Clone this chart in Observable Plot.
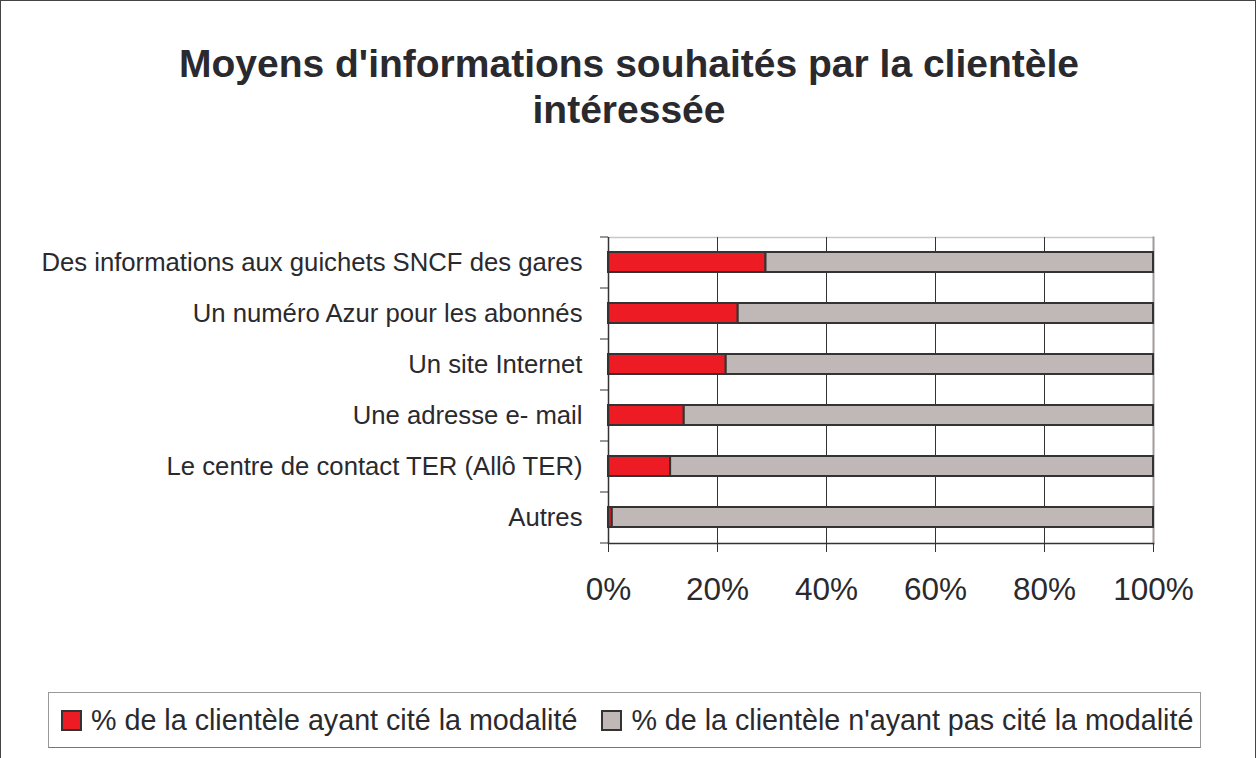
<!DOCTYPE html>
<html>
<head>
<meta charset="utf-8">
<script src="https://cdn.jsdelivr.net/npm/d3@7"></script>
<script src="https://cdn.jsdelivr.net/npm/@observablehq/plot@0.6"></script>
<style>
  html, body { margin: 0; padding: 0; background: #fff; }
  #page { position: relative; width: 1258px; height: 758px; font-family: "Liberation Sans", Arial, sans-serif; color: #222; overflow: hidden; }
  #border { position: absolute; left: 0; top: 0; width: 1256px; height: 780px; box-sizing: border-box; border: 1.5px solid #444; pointer-events: none; }
  #title { height: 190px; box-sizing: border-box; padding-top: 41px; text-align: center; font-weight: bold; font-size: 39px; line-height: 46px; color: #2a2a2e; }
  #chart svg { display: block; }
  #legend { margin-left: 48px; margin-top: 72px; width: 1153px; height: 56px; box-sizing: border-box; border: 1px solid #999; border-bottom-color: #777; display: flex; align-items: center; padding-left: 12px; font-size: 28.7px; color: #2a2a2e; white-space: nowrap; }
  .sw { display: inline-block; width: 17px; height: 17px; border: 2px solid #333; margin-right: 9px; flex: none; }
  .item { display: flex; align-items: center; margin-right: 24px; }
</style>
</head>
<body>
<div id="page">
  <div id="title">Moyens d'informations souhaités par la clientèle<br>intéressée</div>
  <div id="chart"></div>
  <div id="legend"></div>
  <div id="border"></div>
</div>
<script>
const categories = [
  "Des informations aux guichets SNCF des gares",
  "Un numéro Azur pour les abonnés",
  "Un site Internet",
  "Une adresse e- mail",
  "Le centre de contact TER (Allô TER)",
  "Autres"
];
const seriesNames = [
  "% de la clientèle ayant cité la modalité",
  "% de la clientèle n'ayant pas cité la modalité"
];
const cited    = [28.9, 23.8, 21.6, 13.9, 11.4, 0.7];
const notCited = [71.1, 76.2, 78.4, 86.1, 88.6, 99.3];
const xTicks = [0, 20, 40, 60, 80, 100];
const gridTicks = [20, 40, 60, 80];
const colors = ["#ED1C24", "#C0B8B6"];

const rows = [];
categories.forEach((c, i) => {
  rows.push({category: c, series: seriesNames[0], value: cited[i]});
  rows.push({category: c, series: seriesNames[1], value: notCited[i]});
});

const step = 51;
const chart = Plot.plot({
  width: 1258,
  height: 430,
  marginTop: 47,
  marginBottom: 77,
  marginLeft: 608,
  marginRight: 105,
  style: {fontFamily: "'Liberation Sans', Arial, sans-serif", color: "#2a2a2e", background: "white"},
  x: {domain: [0, 100]},
  y: {domain: categories, paddingInner: 0.6, paddingOuter: 0.3},
  color: {domain: seriesNames, range: colors},
  marks: [
    Plot.frame({anchor: "top", stroke: "#c8c8c8", strokeWidth: 1.5}),
    Plot.frame({anchor: "right", stroke: "#a39a9a", strokeWidth: 2}),
    Plot.ruleX(gridTicks, {stroke: "#333", strokeWidth: 1}),
    Plot.barX(rows, Plot.stackX({x: "value", y: "category", fill: "series", stroke: "#333", strokeWidth: 2, order: seriesNames})),
    Plot.ruleX([0], {stroke: "#333", strokeWidth: 1.5}),
    Plot.frame({anchor: "bottom", stroke: "#333", strokeWidth: 1.5}),
    Plot.axisY({tickSize: 0, tickPadding: 26, fontSize: 25.7, label: null}),
    Plot.axisY({tickSize: 8, tickFormat: null, dy: step / 2, stroke: "#333", label: null}),
    Plot.axisY({ticks: [categories[0]], tickSize: 8, tickFormat: null, dy: -step / 2, stroke: "#333", label: null}),
    Plot.axisX({ticks: xTicks, tickSize: 9, tickPadding: 25, fontSize: 31.5, tickFormat: d => d + "%", stroke: "#333", label: null})
  ]
});
document.getElementById("chart").appendChild(chart);

const legend = document.getElementById("legend");
seriesNames.forEach((s, i) => {
  const item = document.createElement("div");
  item.className = "item";
  const sw = document.createElement("span");
  sw.className = "sw";
  sw.style.background = colors[i];
  const t = document.createElement("span");
  t.textContent = s;
  item.appendChild(sw);
  item.appendChild(t);
  legend.appendChild(item);
});
</script>
</body>
</html>
